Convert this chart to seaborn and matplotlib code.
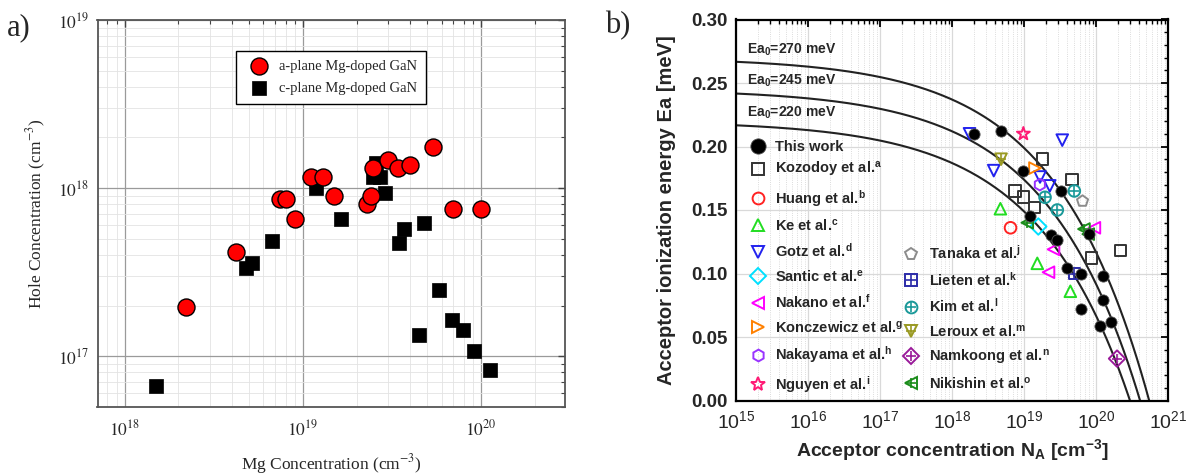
import numpy as np
import matplotlib
matplotlib.use("Agg")
import matplotlib.pyplot as plt
from matplotlib.lines import Line2D
from matplotlib.ticker import LogLocator, MultipleLocator, NullFormatter
import seaborn as sns

# ---- panel a) data ----
a_mg = [2.2e18, 4.2e18, 7.4e18, 8.0e18, 9.0e18, 1.11e19, 1.29e19, 1.5e19, 2.3e19,
        2.4e19, 2.48e19, 3.0e19, 3.4e19, 4.0e19, 5.4e19, 7.0e19, 1.0e20]
a_hole = [1.95e17, 4.15e17, 8.6e17, 8.6e17, 6.5e17, 1.16e18, 1.16e18, 9.0e17, 8.0e17,
          9.0e17, 1.31e18, 1.47e18, 1.31e18, 1.37e18, 1.76e18, 7.5e17, 7.5e17]
c_mg = [1.5e18, 4.8e18, 5.2e18, 6.7e18, 1.19e19, 1.64e19, 2.48e19, 2.72e19, 2.56e19,
        2.9e19, 3.48e19, 3.68e19, 4.76e19, 5.8e19, 4.47e19, 6.87e19, 7.96e19, 9.08e19, 1.13e20]
c_hole = [6.6e16, 3.36e17, 3.6e17, 4.85e17, 1.0e18, 6.56e17, 1.17e18, 1.17e18, 1.4e18,
          9.4e17, 4.7e17, 5.7e17, 6.2e17, 2.47e17, 1.33e17, 1.65e17, 1.43e17, 1.07e17, 8.3e16]

# ---- panel b) data ----
ea0_values = [0.270, 0.245, 0.220]          # eV, model curves Ea = Ea0 - alpha*N^(1/3)
alpha = 3.3e-8
ea0_labels = ['Ea$_\\mathregular{0}$=270 meV', 'Ea$_\\mathregular{0}$=245 meV', 'Ea$_\\mathregular{0}$=220 meV']

this_N = [2.0e18, 4.8e18, 9.7e18, 1.2e19, 2.35e19, 2.9e19, 3.3e19, 3.9e19, 6.2e19,
          6.2e19, 8.1e19, 1.24e20, 1.24e20, 1.14e20, 1.62e20]
this_Ea = [0.210, 0.212, 0.181, 0.145, 0.130, 0.126, 0.165, 0.104, 0.100,
           0.072, 0.131, 0.098, 0.079, 0.059, 0.062]

lit_names = ['Kozodoy', 'Huang', 'Ke', 'Gotz', 'Santic', 'Nakano', 'Konczewicz',
             'Nakayama', 'Nguyen', 'Tanaka', 'Lieten', 'Kim', 'Leroux', 'Namkoong', 'Nikishin']
lit_sup = list('abcdefghijklmno')
lit_N = [
    [7.5e18, 9.8e18, 1.4e19, 1.8e19, 4.6e19, 8.7e19, 2.2e20],
    [6.5e18],
    [4.7e18, 1.53e19, 4.4e19],
    [1.75e18, 3.8e18, 1.67e19, 2.28e19, 3.4e19],
    [1.58e19],
    [2.19e19, 2.57e19, 9.5e19],
    [1.42e19],
    [1.66e19],
    [9.8e18],
    [6.5e19],
    [5.0e19],
    [1.96e19, 2.9e19, 5.0e19],
    [4.8e18],
    [1.96e20],
    [1.11e19, 6.8e19, 7.8e19],
]
lit_Ea = [
    [0.165, 0.160, 0.152, 0.190, 0.174, 0.112, 0.118],
    [0.136],
    [0.151, 0.108, 0.086],
    [0.210, 0.181, 0.176, 0.169, 0.205],
    [0.137],
    [0.101, 0.119, 0.136],
    [0.183],
    [0.170],
    [0.210],
    [0.157],
    [0.100],
    [0.160, 0.150, 0.165],
    [0.190],
    [0.033],
    [0.140, 0.135, 0.131],
]
lit_colors = ['#333333', '#ff2222', '#22dd22', '#2222ee', '#00e0ff', '#ff00ff', '#ff8000',
              '#9933ff', '#ff1a75', '#8c8c8c', '#2b2ba8', '#1a9999', '#999922', '#9a1a9a', '#1a8c1a']
lit_markers = ['s', 'o', '^', 'v', 'D', '<', '>', 'h', '*', 'p', 's', 'o', 'v', 'D', '<']
lit_cross = [False] * 10 + [True] * 5

sns.set_theme(style="white")
plt.rcParams['font.family'] = ['Liberation Sans', 'DejaVu Sans']
plt.rcParams['mathtext.fontset'] = 'custom'
plt.rcParams['mathtext.rm'] = 'Liberation Sans:bold'
plt.rcParams['mathtext.it'] = 'Liberation Sans:bold'
plt.rcParams['mathtext.bf'] = 'Liberation Sans:bold'

fig = plt.figure(figsize=(11.91, 4.75), dpi=100)
W, H = 1191, 475
ax1 = fig.add_axes([97.5 / W, (H - 406.7) / H, 467.5 / W, 386.7 / H])
ax2 = fig.add_axes([736 / W, (H - 400.5) / H, 432 / W, 381 / H])

serif = dict(fontfamily='Liberation Serif', math_fontfamily='stix')

# ---------------- panel a ----------------
sns.scatterplot(x=c_mg, y=c_hole, marker='s', s=95, color='black', edgecolor='black',
                linewidth=0.5, label='c-plane Mg-doped GaN', ax=ax1, zorder=3)
sns.scatterplot(x=a_mg, y=a_hole, marker='o', s=150, color='#ff0000', edgecolor='black',
                linewidth=1.0, label='a-plane Mg-doped GaN', ax=ax1, zorder=4)
ax1.set_xscale('log')
ax1.set_yscale('log')
ax1.set_xlim(7.03e17, 2.96e20)
ax1.set_ylim(5.0e16, 1e19)
ax1.set_xticks([1e18, 1e19, 1e20], [r'$10^{18}$', r'$10^{19}$', r'$10^{20}$'], fontsize=12.5, **serif)
ax1.set_yticks([1e17, 1e18, 1e19], [r'$10^{17}$', r'$10^{18}$', r'$10^{19}$'], fontsize=12.5, **serif)
for axis in (ax1.xaxis, ax1.yaxis):
    axis.set_minor_locator(LogLocator(base=10, subs=np.arange(2, 10), numticks=30))
    axis.set_minor_formatter(NullFormatter())
ax1.grid(True, which='major', color='#9a9a9a', lw=0.9)
ax1.grid(True, which='minor', color='#e3e3e3', lw=0.6)
ax1.tick_params(which='both', direction='in', top=True, right=True, color='#444444')
ax1.tick_params(which='major', length=5, width=1)
ax1.tick_params(which='minor', length=3, width=0.8)
ax1.tick_params(axis='x', pad=9)
ax1.tick_params(axis='y', pad=6)
for sp in ax1.spines.values():
    sp.set_color('#555555')
    sp.set_linewidth(1.3)
ax1.set_xlabel('Mg Concentration (cm$^{-3}$)', fontsize=12.5, **serif)
ax1.set_ylabel('Hole Concentration (cm$^{-3}$)', fontsize=12.5, **serif)
ax1.xaxis.set_label_coords(0.5, -0.118)
ax1.yaxis.set_label_coords(-0.105, 0.5)
h, l = ax1.get_legend_handles_labels()
leg1 = ax1.legend(h[::-1], l[::-1], loc='upper left', bbox_to_anchor=(0.296, 0.92),
                  borderaxespad=0, fancybox=False, framealpha=1, edgecolor='black',
                  prop={'family': 'Liberation Serif', 'size': 10.5}, handletextpad=0.35,
                  borderpad=0.6, labelspacing=0.6)
leg1.get_frame().set_linewidth(1.0)
fig.text(7 / W, 1 - 28 / H, 'a)', fontsize=22, family='Liberation Serif', va='center')

# ---------------- panel b ----------------
N_curve = np.logspace(15, 21, 500)
for ea0, lab in zip(ea0_values, ea0_labels):
    sns.lineplot(x=N_curve, y=ea0 - alpha * N_curve ** (1 / 3), color='#222222', lw=1.5,
                 ax=ax2, estimator=None, sort=False, zorder=2)
    ax2.text(1.42e15, ea0 + 0.0065, lab, fontsize=10, fontweight='bold', va='center')

handles = []
labels = []
for name, sup, xs, ys, col, mk, cross in zip(lit_names, lit_sup, lit_N, lit_Ea, lit_colors,
                                              lit_markers, lit_cross):
    size = 95 if mk == '*' else 70
    sns.scatterplot(x=xs, y=ys, marker=mk, s=size, color=col, facecolor='none', edgecolor=col,
                    linewidth=1.4, ax=ax2, zorder=3)
    base = Line2D([], [], ls='', marker=mk, ms=8.5 if mk != '*' else 10, mfc='none', mec=col, mew=1.4)
    if cross:
        sns.scatterplot(x=xs, y=ys, marker='+', s=45, color=col, linewidth=1.2, ax=ax2, zorder=3)
        handles.append((base, Line2D([], [], ls='', marker='+', ms=6.5, mec=col, mew=1.2)))
    else:
        handles.append(base)
    labels.append(name + ' et al.$^\\mathregular{' + sup + '}$')

sns.scatterplot(x=this_N, y=this_Ea, marker='o', s=65, color='black', edgecolor='#555555',
                linewidth=0.6, ax=ax2, zorder=4)
tw = Line2D([], [], ls='', marker='o', ms=11, mfc='black', mec='#555555', mew=0.6)

ax2.set_xscale('log')
ax2.set_xlim(1e15, 1e21)
ax2.set_ylim(0, 0.30)
ax2.set_xticks([1e15, 1e16, 1e17, 1e18, 1e19, 1e20, 1e21],
               ['$\\mathregular{10^{%d}}$' % e for e in range(15, 22)], fontsize=14)
ax2.xaxis.set_minor_locator(LogLocator(base=10, subs=np.arange(2, 10), numticks=30))
ax2.xaxis.set_minor_formatter(NullFormatter())
ax2.yaxis.set_major_locator(MultipleLocator(0.05))
ax2.yaxis.set_minor_locator(MultipleLocator(0.01))
ax2.set_yticks(np.arange(0, 0.301, 0.05), ['%.2f' % v for v in np.arange(0, 0.301, 0.05)],
               fontsize=13.5, fontweight='bold')
ax2.grid(True, which='major', color='#d9d9d9', lw=0.9)
ax2.grid(True, which='minor', axis='x', color='#d0d0d0', lw=0.6, ls=':')
ax2.tick_params(which='both', direction='in', top=True, right=True, color='black')
ax2.tick_params(which='major', length=5, width=1.3)
ax2.tick_params(which='minor', length=3, width=1.0)
ax2.tick_params(axis='x', pad=7)
ax2.tick_params(axis='y', pad=6)
for sp in ax2.spines.values():
    sp.set_color('black')
    sp.set_linewidth(1.6)
ax2.set_xlabel('Acceptor concentration N$_\\mathregular{A}$ [cm$^\\mathregular{-3}$]',
               fontsize=14, fontweight='bold')
ax2.set_ylabel('Acceptor ionization energy Ea [meV]', fontsize=14.5, fontweight='bold')
ax2.xaxis.set_label_coords(0.5, -0.095)
ax2.yaxis.set_label_coords(-0.14, 0.5)

leg_kw = dict(frameon=False, borderaxespad=0, borderpad=0, handlelength=1.2, handletextpad=0.6,
              labelspacing=0.59, prop={'weight': 'bold', 'size': 10.5})
legT = ax2.legend([tw], ['This work'], loc='center left', bbox_to_anchor=(0.03, 0.666), **leg_kw)
ax2.add_artist(legT)
legA = ax2.legend(handles[:9], labels[:9], loc='center left', bbox_to_anchor=(0.03, 0.323), **leg_kw)
ax2.add_artist(legA)
ax2.legend(handles[9:], labels[9:], loc='center left', bbox_to_anchor=(0.385, 0.2173), **leg_kw)
fig.text(605 / W, 1 - 26 / H, 'b)', fontsize=22, family='Liberation Serif', va='center')

fig.savefig('out.png', dpi=100)
